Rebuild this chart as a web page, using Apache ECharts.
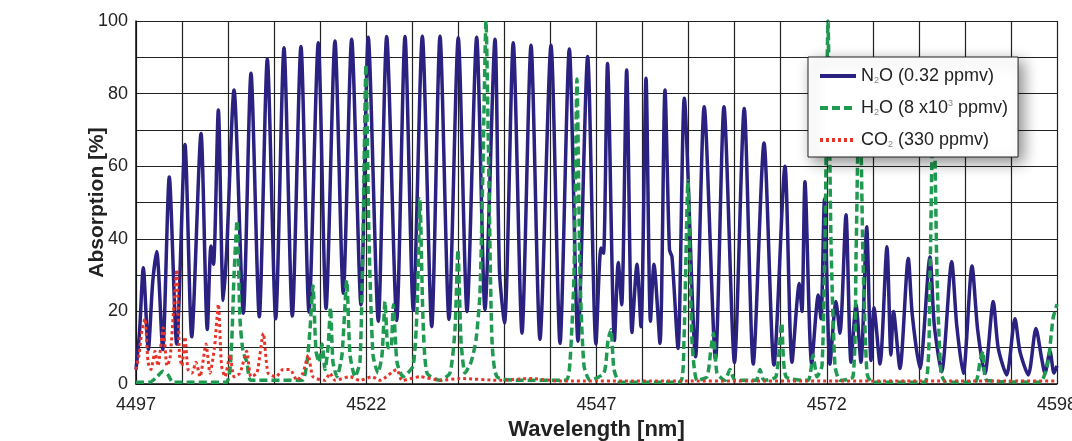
<!DOCTYPE html>
<html>
<head>
<meta charset="utf-8">
<script src="https://cdn.jsdelivr.net/npm/echarts@6/dist/echarts.min.js"></script>
<style>
html,body{margin:0;padding:0;background:#fff;overflow:hidden;}
#chart{width:1072px;height:441px;}
</style>
</head>
<body>
<div id="chart"></div>
<script>
// x tick labels shown at every 5th gridline
const xTickLabels = ['4497', '4522', '4547', '4572', '4598'];
const yTickLabels = ['0', '20', '40', '60', '80', '100'];

// N2O (0.32 ppmv): [wavelength nm, absorption %]
const n2o = [
[4497.00,4],[4497.38,14],[4497.80,32],[4498.35,9.5],[4498.83,28],[4499.27,36.5],[4499.93,9.5],
[4500.65,57],[4501.46,11],[4502.37,66],[4503.11,13],[4504.13,69],[4504.82,15],[4505.22,38],[4505.50,33],
[4506.03,75.5],[4506.57,23],[4506.95,37],[4507.75,81],[4508.77,19.5],[4509.61,85.6],[4510.52,18.5],
[4511.40,89.5],[4512.32,18],[4513.23,92.6],[4514.14,18.7],[4515.09,93],[4515.97,19.8],[4516.99,94],
[4517.84,20.8],[4518.82,94.5],[4519.73,25],[4520.65,95],[4521.67,21.8],[4522.47,95.5],[4523.57,17.3],
[4524.49,95.7],[4525.59,17.5],[4526.50,95.7],[4527.41,20.3],[4528.40,95.8],[4529.43,15.8],[4530.34,95.8],
[4531.32,17.8],[4532.34,95.4],[4533.30,20],[4534.36,95.5],[4535.27,20.5],[4536.37,95],[4536.86,31],
[4537.41,16.8],[4538.37,94],[4539.33,14],[4540.32,93.3],[4541.30,12.3],[4542.51,93.3],[4543.50,11.2],
[4544.52,92.3],[4545.47,11.8],[4546.53,90.2],[4547.44,11],[4547.99,37.5],[4548.27,36],[4548.71,88.3],
[4549.47,12],[4549.89,33.5],[4550.26,21.8],[4550.81,86.5],[4551.39,14.2],[4551.94,33],[4552.38,15.8],
[4552.93,84.2],[4553.42,17.3],[4553.80,33],[4554.46,11.2],[4555.01,81],[4555.50,37],[4555.78,35],
[4556.44,9.8],[4557.13,78.7],[4558.36,7.5],[4559.31,76.4],[4560.55,6.8],[4561.48,76.4],[4562.63,5.9],
[4563.70,75.9],[4564.69,5.5],[4565.87,66.4],[4566.96,5.2],[4568.17,60],[4568.94,6],[4569.74,27.7],
[4570.03,20],[4570.36,55.7],[4571.10,5.5],[4571.82,24.5],[4572.12,18],[4572.50,51],[4573.10,5.5],
[4573.76,22.7],[4574.20,14],[4574.86,46.6],[4575.41,6],[4575.96,21.8],[4576.50,6],[4577.13,43.3],
[4577.60,6.5],[4577.93,21],[4578.59,5.5],[4579.35,37.8],[4579.79,8],[4580.07,20],[4580.78,4.3],
[4581.69,34.6],[4582.13,19],[4582.97,4.3],[4584.07,35],[4584.54,16.3],[4585.35,3.4],[4586.45,33.7],
[4587.00,16.3],[4587.72,2.9],[4588.68,32.5],[4589.30,14.9],[4590.10,2.9],[4591.01,22.7],[4591.56,9.8],
[4592.48,2.5],[4593.39,18],[4593.94,8.9],[4594.85,2.5],[4595.69,15.3],[4596.32,7],[4596.68,3],
[4597.23,9],[4597.67,3],[4598.00,5]
];

// H2O (8 x10^3 ppmv)
const h2o = [
[4497.00,0.5],[4498.54,0.5],[4499.30,2],[4499.96,3.5],[4500.51,2.5],[4501.06,0.5],[4506.87,0.5],
[4507.42,8],[4507.75,30],[4508.08,45],[4508.40,18],[4508.73,9],[4509.17,6],[4509.61,1],[4515.20,1],
[4515.75,6],[4516.08,15],[4516.41,27],[4516.74,9],[4517.07,6],[4517.40,11],[4517.73,4],[4518.06,10],
[4518.33,21],[4518.60,6],[4519.04,2],[4519.59,8],[4520.11,28.6],[4520.47,8],[4521.02,2],[4521.56,6],
[4521.89,40],[4522.22,88],[4522.55,40],[4522.99,8],[4523.54,3],[4523.98,8],[4524.31,22.7],[4524.63,10],
[4524.96,10],[4525.22,21.8],[4525.62,6],[4526.28,2],[4527.38,5],[4527.81,20],[4528.14,51],[4528.47,18],
[4528.91,3],[4530.34,1],[4531.43,3],[4531.98,15],[4532.31,37],[4532.64,12],[4533.08,3],[4533.74,6],
[4534.28,12],[4534.72,25],[4535.05,60],[4535.38,100],[4535.71,55],[4536.04,12],[4536.59,2],[4539.11,1],
[4544.15,1],[4544.59,6],[4545.03,30],[4545.36,84],[4545.69,30],[4546.13,5],[4546.79,1],[4548.32,3],
[4548.76,12],[4549.09,15],[4549.42,4],[4550.08,0.5],[4556.66,0.5],[4557.09,12],[4557.53,56],[4557.97,12],
[4558.52,1],[4559.62,2],[4560.06,10],[4560.33,14],[4560.71,3],[4561.59,1],[4562.14,4],[4562.69,1],
[4564.99,1],[4565.43,4],[4565.87,1],[4567.18,2],[4567.81,16.8],[4568.28,2],[4570.69,1],[4571.24,8],
[4571.68,2],[4572.23,5],[4572.56,40],[4572.89,100],[4573.21,40],[4573.65,5],[4574.20,1],[4575.63,2],
[4575.96,35],[4576.34,88],[4576.72,35],[4577.16,3],[4577.71,0.5],[4583.52,0.5],[4584.07,30],[4584.45,85],
[4584.84,30],[4585.28,3],[4585.83,0.5],[4589.01,0.5],[4589.55,6],[4589.88,9],[4590.32,1],[4596.13,0.5],
[4597.01,6],[4597.56,18],[4598.00,22]
];

// CO2 (330 ppmv)
const co2 = [
[4497.00,4],[4497.33,8],[4497.66,15],[4497.99,18],[4498.32,6],[4498.64,4],[4499.08,9],[4499.41,5],
[4499.99,15.5],[4500.40,5],[4500.73,7],[4501.11,20],[4501.46,31.5],[4501.77,8],[4502.04,5],[4502.37,13],
[4502.70,4],[4503.14,3],[4503.58,6],[4504.02,2],[4504.68,11],[4505.11,3],[4505.61,10],[4506.03,22],
[4506.38,5],[4506.76,2],[4507.31,8],[4507.75,2],[4508.40,3],[4509.14,9],[4509.61,2],[4510.27,3],
[4510.96,14],[4511.48,3],[4512.35,2],[4513.12,4],[4513.89,4],[4514.66,1],[4515.31,3],[4515.89,8],
[4516.41,2],[4517.73,1],[4518.27,3],[4518.82,1],[4520.47,2],[4521.56,1],[4522.88,2],[4523.76,1],
[4525.59,4],[4526.17,1],[4528.14,2],[4530.34,1],[4532.53,1.5],[4536.92,1],[4540.21,1.5],[4543.50,0.8],
[4598.00,0.8]
];

const chart = echarts.init(document.getElementById('chart'), null, {renderer: 'canvas'});
const bodyFont = '"Liberation Sans", Arial, sans-serif';

chart.setOption({
  backgroundColor: '#ffffff',
  animation: false,
  grid: {left: 136, right: 15, top: 21, bottom: 57, containLabel: false, outerBoundsMode: 'none'},
  xAxis: {
    type: 'value', min: 4497, max: 4598, interval: 5.05,
    name: 'Wavelength [nm]', nameLocation: 'middle', nameGap: 35, nameMoveOverlap: false,
    nameTextStyle: {fontFamily: bodyFont, fontWeight: 'bold', fontSize: 22, color: '#222'},
    axisLine: {show: true, lineStyle: {color: '#111', width: 1.5}},
    axisTick: {show: false},
    splitLine: {show: true, lineStyle: {color: '#222', width: 1.2}},
    axisLabel: {
      fontFamily: bodyFont, fontSize: 18, color: '#222', margin: 12,
      formatter: function (v, i) { return i % 5 === 0 ? (xTickLabels[i / 5] || '') : ''; }
    }
  },
  yAxis: {
    type: 'value', min: 0, max: 100, interval: 10,
    name: 'Absorption [%]', nameLocation: 'middle', nameGap: 28, nameMoveOverlap: false,
    nameTextStyle: {fontFamily: bodyFont, fontWeight: 'bold', fontSize: 21, color: '#222'},
    axisLine: {show: true, lineStyle: {color: '#111', width: 1.5}},
    axisTick: {show: false},
    splitLine: {show: true, lineStyle: {color: '#222', width: 1.2}},
    axisLabel: {
      fontFamily: bodyFont, fontSize: 18, color: '#222', margin: 8,
      formatter: function (v) { return v % 20 === 0 ? yTickLabels[v / 20] : ''; }
    }
  },
  legend: {
    orient: 'vertical', left: 808, top: 57,
    backgroundColor: '#fff', borderColor: '#222', borderWidth: 1,
    shadowBlur: 14, shadowColor: 'rgba(0,0,0,0.45)', shadowOffsetX: 5, shadowOffsetY: 5,
    padding: [10, 10, 8, 10], itemGap: 14, itemWidth: 36, itemHeight: 14,
    itemStyle: {opacity: 0},
    lineStyle: {width: 4},
    textStyle: {
      fontFamily: bodyFont, fontSize: 18, color: '#222',
      rich: {
        sub: {fontFamily: bodyFont, fontSize: 9, color: '#888', verticalAlign: 'bottom', padding: [8, 0, 0, 0]},
        sup: {fontFamily: bodyFont, fontSize: 9, color: '#888', verticalAlign: 'top', padding: [0, 0, 8, 0]}
      }
    },
    formatter: function (name) {
      if (name === 'N2O') return 'N{sub|2}O (0.32 ppmv)';
      if (name === 'H2O') return 'H{sub|2}O (8 x10{sup|3} ppmv)';
      return 'CO{sub|2} (330 ppmv)';
    },
    data: ['N2O', 'H2O', 'CO2']
  },
  series: [
    {name: 'N2O', type: 'line', data: n2o, showSymbol: false, symbol: 'none', smooth: 0.25,
     lineStyle: {color: '#2a2180', width: 3.5}, itemStyle: {color: '#2a2180'}, z: 2},
    {name: 'H2O', type: 'line', data: h2o, showSymbol: false, symbol: 'none', smooth: 0.2,
     lineStyle: {color: '#1f9a50', width: 3.5, type: [8, 4]}, itemStyle: {color: '#1f9a50'}, z: 3},
    {name: 'CO2', type: 'line', data: co2, showSymbol: false, symbol: 'none', smooth: 0.2,
     lineStyle: {color: '#e5352b', width: 3, type: [3, 3]}, itemStyle: {color: '#e5352b'}, z: 4}
  ]
});
</script>
</body>
</html>
